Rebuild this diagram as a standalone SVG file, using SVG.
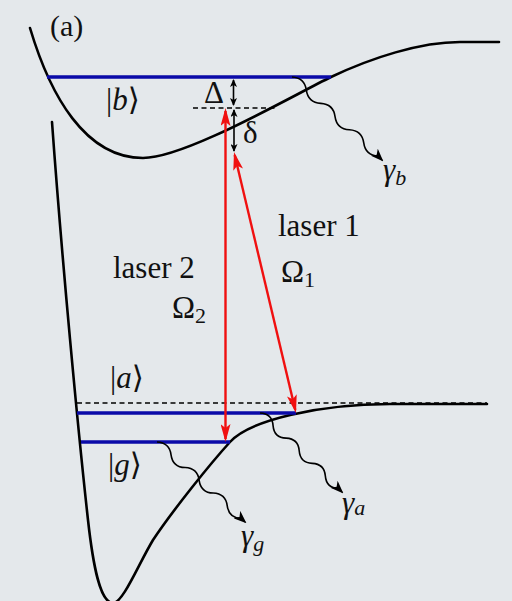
<svg xmlns="http://www.w3.org/2000/svg" width="512" height="601" viewBox="0 0 512 601">
<style>
.curve{fill:none;stroke:#000;stroke-width:2.6;stroke-linecap:round}
.level{fill:none;stroke:#0a0aa8;stroke-width:3.5}
.dash{fill:none;stroke:#000;stroke-width:1.6;stroke-dasharray:5 3.5}
.laser{fill:none;stroke:#f01010;stroke-width:2.4}
.tick{fill:none;stroke:#000;stroke-width:1.6}
.wave{fill:none;stroke:#000;stroke-width:1.6}
text{font-family:"Liberation Serif","DejaVu Serif",serif;fill:#111}
.lbl{font-size:31px}
.sub{font-size:22px}
.it{font-style:italic}
</style>
<defs>
<marker id="rh" viewBox="0 0 18 10" refX="15" refY="5" markerWidth="18" markerHeight="10" orient="auto-start-reverse" markerUnits="userSpaceOnUse">
<path d="M0,0 L18,5 L0,10 L4,5 z" fill="#f01010"/>
</marker>
<marker id="bh" viewBox="0 0 8 7" refX="7" refY="3.5" markerWidth="8" markerHeight="7" orient="auto-start-reverse" markerUnits="userSpaceOnUse">
<path d="M0,0 L8,3.5 L0,7 L2,3.5 z" fill="#000"/>
</marker>
<marker id="wh" viewBox="0 0 13 10" refX="11" refY="5" markerWidth="13" markerHeight="10" orient="auto" markerUnits="userSpaceOnUse">
<path d="M0,0 L13,5 L0,10 L3.5,5 z" fill="#000"/>
</marker>
</defs>
<rect width="512" height="601" fill="#e4e8eb"/>

<g id="potential-b">
<path class="curve" d="M30,28 C50,95 85,158 143,158 C185,158 290,97 331,77 C371,58 420,42 460,42 L499,42"/>
</g>
<g id="potential-g">
<path class="curve" d="M52,122 C62,260 78,430 88,520 C93,565 100,603 113,603 C123,603 138,565 153,540 C173,510 210,464 230,442 C250,420 320,404 390,404 L487,404"/>
</g>

<g id="levels">
<line class="dash" x1="193" y1="108" x2="277" y2="108"/>
<line class="dash" x1="77" y1="403" x2="487" y2="403"/>
<line id="level-b" class="level" x1="47" y1="77" x2="331" y2="77"/>
<line id="level-a" class="level" x1="77" y1="413" x2="296" y2="413"/>
<line id="level-g" class="level" x1="81" y1="442" x2="230" y2="442"/>
</g>

<g id="connectors">
<line id="laser2" class="laser" x1="225.5" y1="111" x2="225.5" y2="439" marker-start="url(#rh)" marker-end="url(#rh)"/>
<line id="laser1" class="laser" x1="234.7" y1="155" x2="295.3" y2="410" marker-start="url(#rh)" marker-end="url(#rh)"/>
<line id="delta-cap" class="tick" x1="233.5" y1="80" x2="233.5" y2="105" marker-start="url(#bh)" marker-end="url(#bh)"/>
<line id="delta-small" class="tick" x1="234" y1="110" x2="234" y2="151" marker-start="url(#bh)" marker-end="url(#bh)"/>
<path id="decay-b" class="wave" d="M292,77 Q304.6,77.7 306.35,90.18 T320.7,103.36 T335.05,116.54 T349.4,129.72 T363.75,142.9 T378.1,156.08 L382,160" marker-end="url(#wh)"/>
<path id="decay-a" class="wave" d="M260,413 Q272.1,413.5 273.07,425.58 T286.13,438.17 T299.2,450.75 T312.27,463.33 T325.33,475.92 T338.4,488.5 L342,492" marker-end="url(#wh)"/>
<path id="decay-g" class="wave" d="M157,442 Q169.4,442.5 171.05,454.77 T185.1,467.53 T199.15,480.3 T213.2,493.07 T227.25,505.83 T241.3,518.6 L245,522" marker-end="url(#wh)"/>
</g>

<g id="labels">
<text class="lbl" x="50" y="36" style="font-size:30px">(a)</text>
<text class="lbl" x="106" y="110">|<tspan class="it">b</tspan>⟩</text>
<text class="lbl" x="110" y="388">|<tspan class="it">a</tspan>⟩</text>
<text class="lbl" x="108" y="475">|<tspan class="it">g</tspan>⟩</text>
<text class="lbl" x="204" y="103">Δ</text>
<text class="lbl" x="243" y="143">δ</text>
<text class="lbl" x="113" y="278">laser 2</text>
<text class="lbl" x="278" y="236">laser 1</text>
<text class="lbl" x="281" y="282">Ω<tspan class="sub" dy="5">1</tspan></text>
<text class="lbl" x="172" y="318">Ω<tspan class="sub" dy="5">2</tspan></text>
<text class="lbl it" x="383" y="180">γ<tspan class="sub" dy="5">b</tspan></text>
<text class="lbl it" x="342" y="513">γ<tspan class="sub" dy="2">a</tspan></text>
<text class="lbl it" x="241" y="546">γ<tspan class="sub" dy="5">g</tspan></text>
</g>
</svg>
